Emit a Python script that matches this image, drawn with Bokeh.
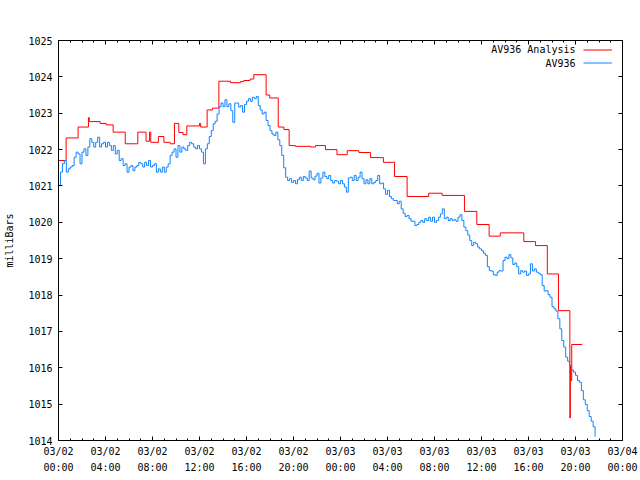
from bokeh.plotting import figure
from bokeh.models import (FixedTicker, LinearAxis, Range1d, Label, Legend, LegendItem,
                          CustomJSTickFormatter, ColumnDataSource)
from bokeh.embed import file_html
from bokeh.resources import INLINE

# ---------------- data ----------------
TITLE = "Barometric Pressure for AV936 on 2025-Mar-02 (time in UTC)"
Y_LABEL = "milliBars"
SERIES_NAMES = ["AV936 Analysis", "AV936"]

# x axis: hours since 03/02 00:00 UTC
X_TICK_HOURS = [0, 4, 8, 12, 16, 20, 24, 28, 32, 36, 40, 44, 48]
X_TICK_LABELS = ["03/02\n00:00", "03/02\n04:00", "03/02\n08:00", "03/02\n12:00",
                 "03/02\n16:00", "03/02\n20:00", "03/03\n00:00", "03/03\n04:00",
                 "03/03\n08:00", "03/03\n12:00", "03/03\n16:00", "03/03\n20:00",
                 "03/04\n00:00"]
X_MINOR_HOURS = list(range(0, 49))
Y_TICKS = [1014, 1015, 1016, 1017, 1018, 1019, 1020, 1021, 1022, 1023, 1024, 1025]

# Analysis (step series): change times in hours and values in mb
ANALYSIS_HOURS = [0.00, 0.65, 1.67, 2.55, 2.62, 3.55, 4.06, 4.65, 5.68, 6.75,
                  7.45, 7.75, 7.85, 8.50, 8.97, 9.50, 9.87, 10.24, 10.60, 10.92,
                  12.00, 12.10, 12.65, 13.10, 13.65, 14.64, 15.49, 15.77, 16.30, 16.62,
                  17.67, 17.98, 18.70, 19.18, 19.63, 20.17, 21.45, 21.87, 22.72, 23.70,
                  24.57, 25.56, 26.55, 27.65, 28.60, 29.67, 31.50, 32.65, 34.55, 35.60,
                  36.65, 37.60, 39.60, 40.60, 41.60, 42.55, 43.52, 43.56, 43.60, 43.68,
                  44.55]
ANALYSIS_MB = [1021.70, 1022.32, 1022.62, 1022.88, 1022.77, 1022.72, 1022.68, 1022.48, 1022.16, 1022.48,
               1022.23, 1022.48, 1022.20, 1022.36, 1022.20, 1022.16, 1022.72, 1022.47, 1022.41, 1022.65,
               1022.72, 1022.62, 1023.09, 1023.14, 1023.88, 1023.84, 1023.87, 1023.90, 1023.94, 1024.06,
               1023.50, 1023.42, 1022.62, 1022.55, 1022.11, 1022.09, 1022.07, 1022.11, 1022.00, 1021.86,
               1021.97, 1021.92, 1021.78, 1021.65, 1021.26, 1020.71, 1020.80, 1020.74, 1020.30, 1019.94,
               1019.62, 1019.71, 1019.47, 1019.36, 1018.58, 1017.57, 1014.62, 1016.06, 1015.65, 1016.64,
               1016.66]

# Observations, one every 10 minutes from 03/02 00:00
OBS_INTERVAL_MIN = 10
OBS_MB = [
    1021.01, 1021.38, 1021.61, 1021.70, 1021.38, 1021.47, 1021.52, 1021.56, 1021.79, 1021.93,
    1021.88, 1021.61, 1021.93, 1022.02, 1021.84, 1022.07, 1022.30, 1022.20, 1022.07, 1022.20,
    1022.34, 1022.07, 1022.16, 1022.20, 1022.07, 1022.20, 1022.11, 1021.98, 1022.11, 1021.88,
    1021.98, 1021.70, 1021.75, 1021.56, 1021.61, 1021.38, 1021.52, 1021.56, 1021.42, 1021.52,
    1021.56, 1021.65, 1021.61, 1021.52, 1021.65, 1021.56, 1021.70, 1021.52, 1021.56, 1021.61,
    1021.38, 1021.47, 1021.38, 1021.52, 1021.38, 1021.52, 1021.61, 1021.84, 1021.93, 1022.02,
    1021.79, 1022.11, 1021.93, 1022.07, 1022.02, 1021.98, 1022.11, 1022.20, 1022.16, 1022.07,
    1022.02, 1022.11, 1022.02, 1021.93, 1021.61, 1022.02,
    1022.16, 1022.36, 1022.52, 1022.71, 1022.78, 1022.98, 1023.18, 1023.28, 1023.18, 1023.37,
    1023.18, 1023.26, 1023.07, 1022.75, 1023.28, 1023.28, 1023.17, 1023.21, 1023.03, 1023.24,
    1023.33, 1023.40, 1023.33, 1023.44, 1023.40, 1023.46, 1023.21, 1023.09, 1022.98, 1023.03,
    1022.80, 1022.66, 1022.52, 1022.43, 1022.39, 1022.48, 1022.27, 1022.11, 1021.84, 1021.50,
    1021.24, 1021.15, 1021.20, 1021.10, 1021.15, 1021.06, 1021.17, 1021.24, 1021.15, 1021.26,
    1021.22, 1021.15, 1021.41, 1021.22, 1021.17, 1021.27, 1021.35, 1021.08, 1021.22, 1021.38,
    1021.26, 1021.20, 1021.29, 1021.15, 1021.08, 1021.15, 1021.13, 1021.06, 1021.15, 1021.06,
    1020.97, 1020.83, 1021.22, 1021.24,
    1021.15, 1021.29, 1021.15, 1021.24, 1021.38, 1021.20, 1021.06, 1021.17, 1021.06, 1021.20,
    1021.06, 1021.10, 1021.15, 1021.29, 1021.06, 1021.08, 1020.92, 1020.77, 1020.88, 1020.71,
    1020.65, 1020.60, 1020.60, 1020.51, 1020.58, 1020.37, 1020.25, 1020.16, 1020.19, 1020.10,
    1020.03, 1020.03, 1019.91, 1019.94, 1020.00, 1020.05, 1020.00, 1020.10, 1020.05, 1020.14,
    1020.03, 1020.14, 1020.00, 1020.05, 1020.14, 1020.23, 1020.37, 1020.10, 1020.14, 1020.05,
    1020.10, 1020.05, 1020.07, 1020.03, 1020.14, 1020.21, 1020.05, 1019.87, 1019.77,
    1019.65, 1019.50, 1019.36, 1019.45, 1019.41, 1019.32, 1019.27, 1019.22, 1019.15, 1019.09,
    1018.78, 1018.67, 1018.66, 1018.56, 1018.54, 1018.63, 1018.67, 1018.66, 1018.95, 1019.04,
    1019.00, 1019.11, 1019.02, 1018.84, 1018.88, 1018.78, 1018.58, 1018.67, 1018.63, 1018.66,
    1018.54, 1018.58, 1018.86, 1018.66, 1018.72, 1018.63, 1018.60, 1018.56, 1018.26, 1018.11,
    1018.12, 1018.01, 1017.94, 1017.68, 1017.62, 1017.56, 1017.35, 1017.07, 1016.75, 1016.57,
    1016.29, 1016.18, 1016.06, 1015.94, 1015.88, 1015.79, 1015.65, 1015.60, 1015.37, 1015.12,
    1014.99, 1014.82, 1014.66, 1014.53, 1014.38, 1014.11,
]
OBS_HOURS = [i * OBS_INTERVAL_MIN / 60.0 for i in range(len(OBS_MB))]

# ---------------- styling ----------------
FONT = "DejaVu Sans Mono"
FS = "10px"
RED = "#ff0000"
BLUE = "#0f84ff"

p = figure(width=640, height=480, output_backend="svg", toolbar_location=None,
           x_range=Range1d(0, 48), y_range=Range1d(1014, 1025),
           min_border_left=58, min_border_right=18, min_border_top=40, min_border_bottom=40)
p.title.visible = False
p.xgrid.visible = False
p.ygrid.visible = False
p.outline_line_color = "black"
p.outline_line_alpha = 1.0
p.outline_line_width = 1
p.background_fill_color = "white"
p.border_fill_color = "white"

xticker = FixedTicker(ticks=X_TICK_HOURS, minor_ticks=X_MINOR_HOURS)
yticker = FixedTicker(ticks=Y_TICKS, minor_ticks=[])


def style_axis(ax):
    ax.axis_line_color = "black"
    ax.major_tick_line_color = "black"
    ax.minor_tick_line_color = "black"
    ax.major_tick_in = 4
    ax.major_tick_out = 0
    ax.minor_tick_in = 2
    ax.minor_tick_out = 0
    ax.major_label_text_font = FONT
    ax.major_label_text_font_size = FS
    ax.major_label_text_color = "black"
    ax.axis_label_text_font = FONT
    ax.axis_label_text_font_size = FS
    ax.axis_label_text_font_style = "normal"
    ax.axis_label_text_color = "black"


xa = p.xaxis[0]
xa.ticker = xticker
xa.major_label_overrides = {h: lab for h, lab in zip(X_TICK_HOURS, X_TICK_LABELS)}
style_axis(xa)
xa.major_label_standoff = 5
xa.major_label_text_line_height = 1.5

ya = p.yaxis[0]
ya.ticker = yticker
style_axis(ya)
ya.major_label_standoff = 6
ya.axis_label = Y_LABEL
ya.axis_label_standoff = 10

blank = CustomJSTickFormatter(code="return ''")
top = LinearAxis(ticker=xticker, formatter=blank, major_label_standoff=0)
style_axis(top)
p.add_layout(top, "above")
right = LinearAxis(ticker=yticker, formatter=blank, major_label_standoff=0)
style_axis(right)
p.add_layout(right, "right")

src_a = ColumnDataSource(dict(x=ANALYSIS_HOURS, y=ANALYSIS_MB))
src_o = ColumnDataSource(dict(x=OBS_HOURS, y=OBS_MB))
r_red = p.step("x", "y", source=src_a, mode="after", line_color=RED, line_width=1)
r_blue = p.step("x", "y", source=src_o, mode="after", line_color=BLUE, line_width=1)

# legend samples (gnuplot style: text on the left, sample on the right)
legend = Legend(items=[LegendItem(label=" ", renderers=[r_red]),
                       LegendItem(label=" ", renderers=[r_blue])],
                location=(525, 371), glyph_width=29, glyph_height=13,
                label_height=13, label_width=0, label_standoff=0, spacing=0,
                padding=0, margin=0, border_line_color=None,
                background_fill_alpha=0, label_text_font_size=FS,
                label_text_font=FONT)
p.add_layout(legend)
for name, ypos in zip(SERIES_NAMES, [391, 377.5]):
    p.add_layout(Label(x=517, y=ypos, x_units="screen", y_units="screen", text=name,
                       text_align="right", text_baseline="middle", text_font=FONT,
                       text_font_size=FS, text_color="black"))

p.add_layout(Label(x=282, y=420, x_units="screen", y_units="screen", text=TITLE,
                   text_align="center", text_baseline="middle", text_font=FONT,
                   text_font_size=FS, text_color="black"))

open("out.html", "w").write(file_html(p, INLINE))
